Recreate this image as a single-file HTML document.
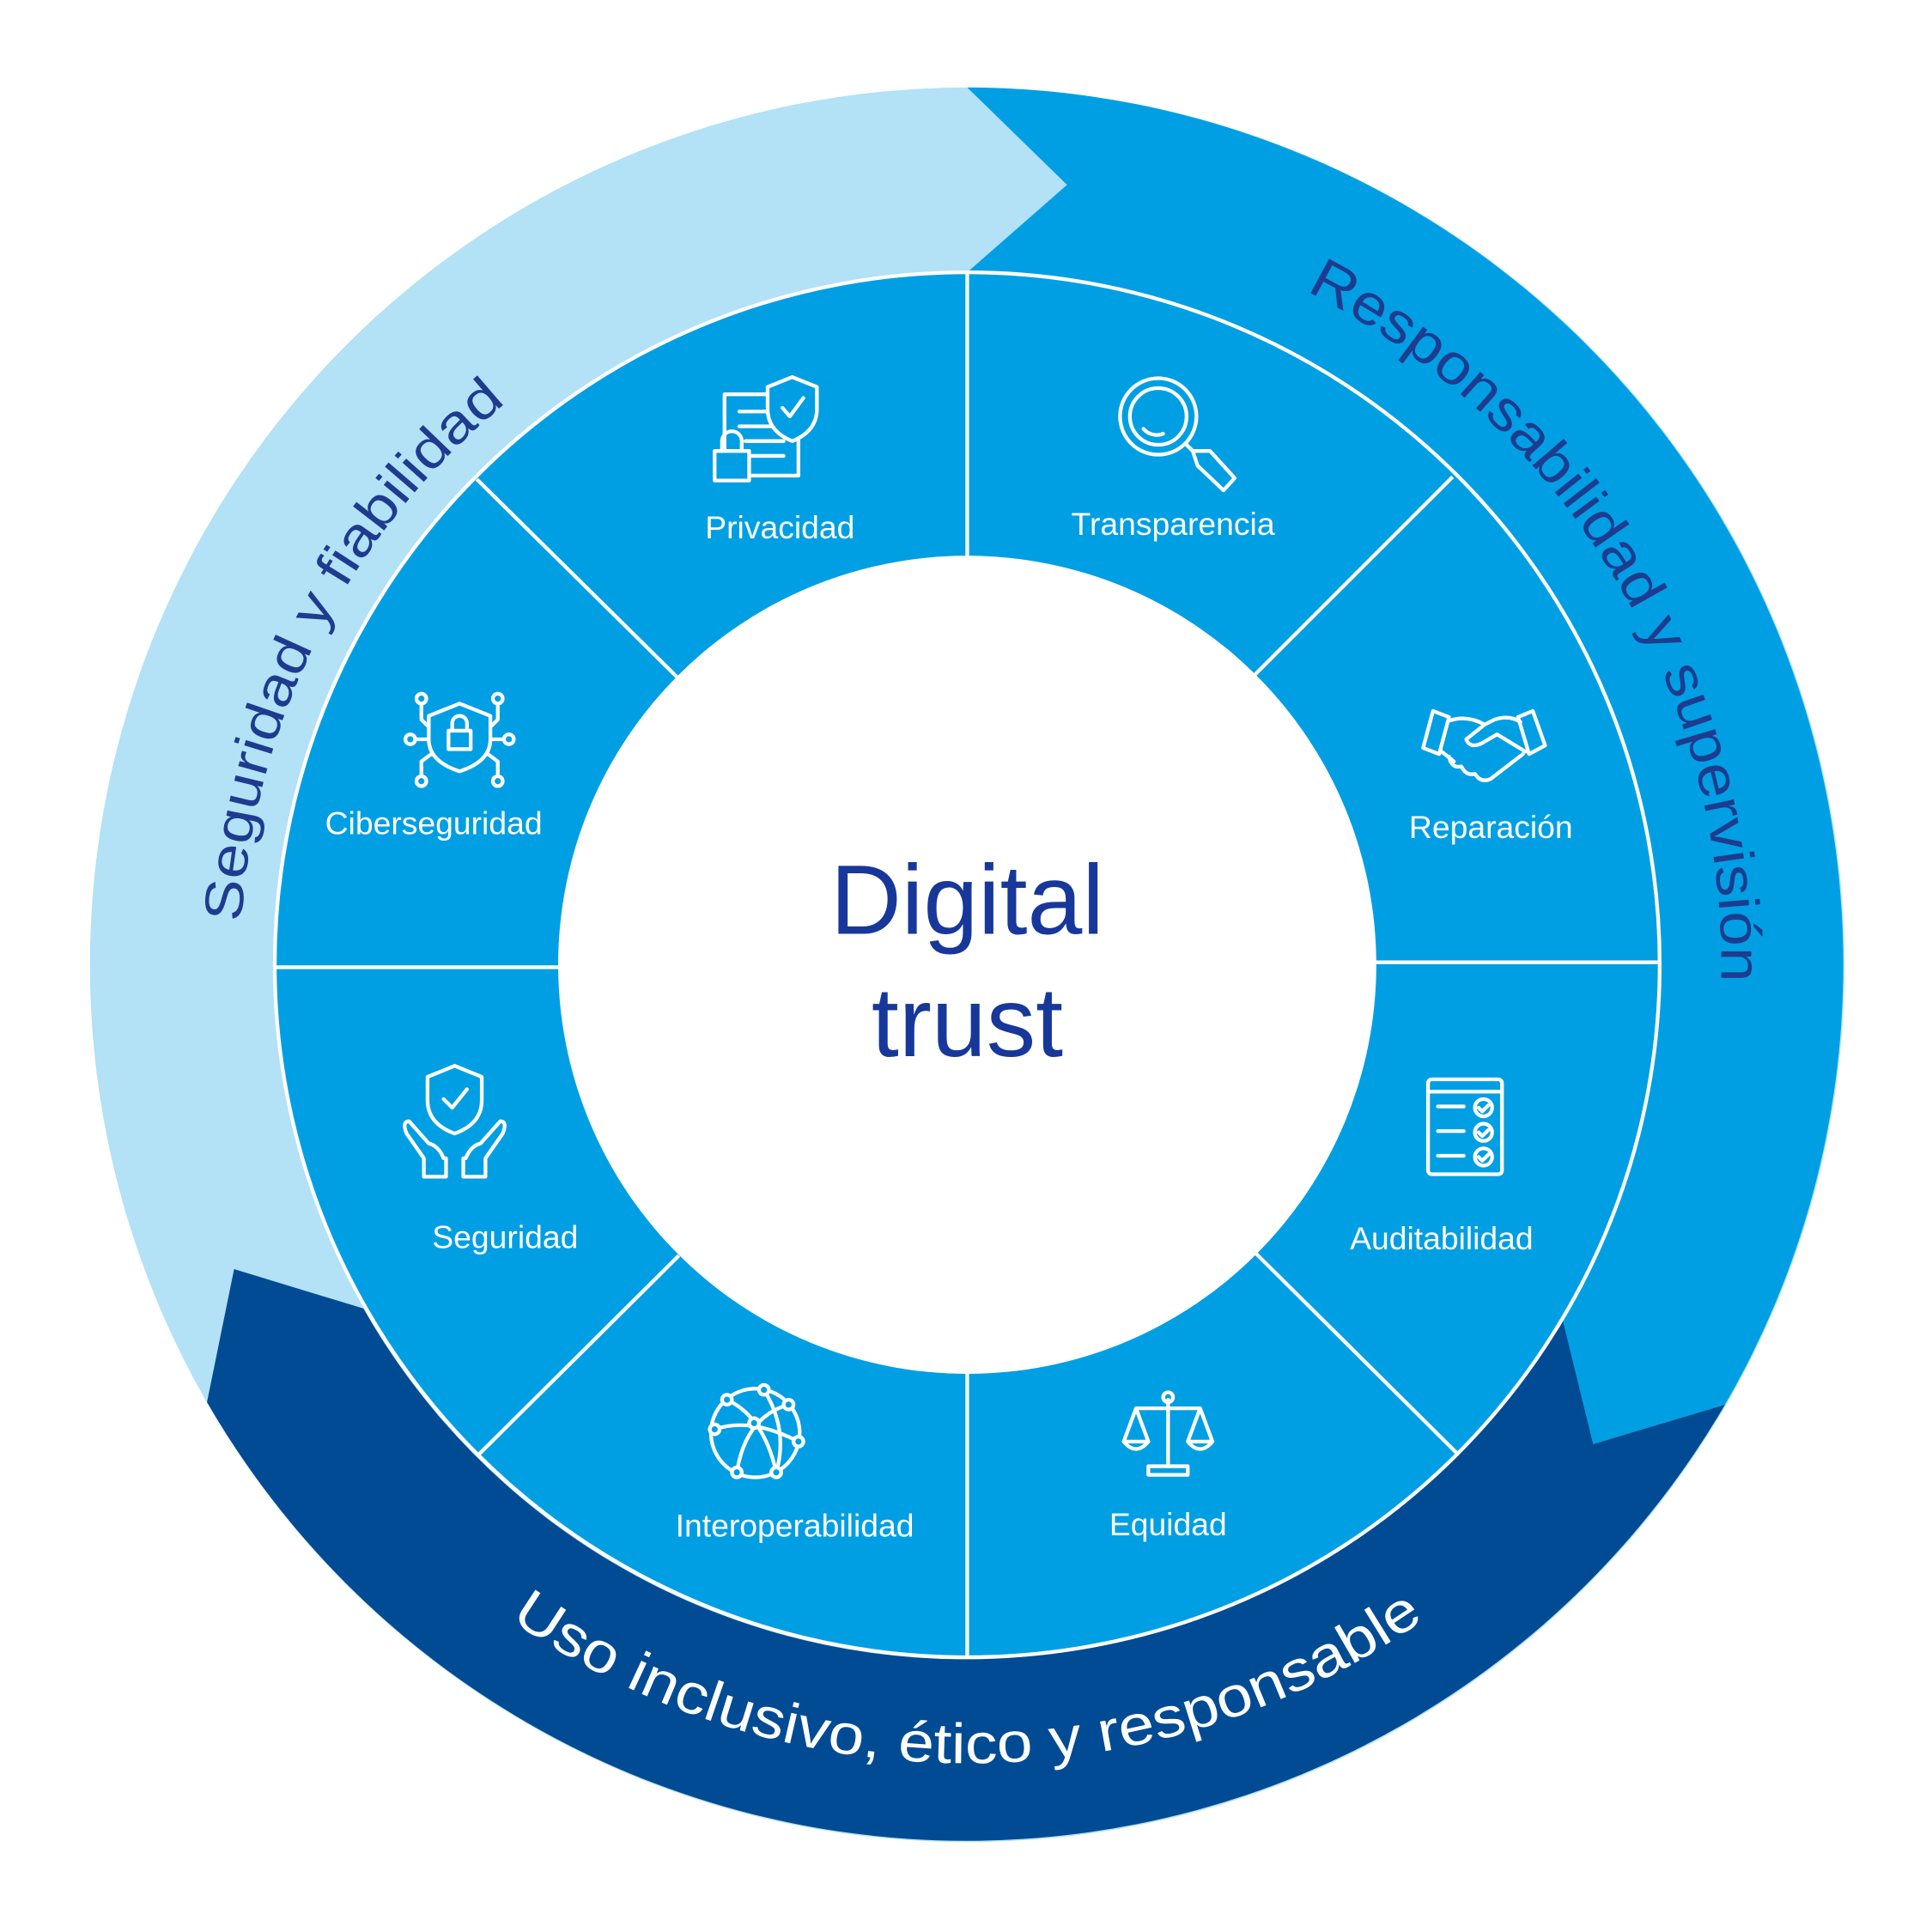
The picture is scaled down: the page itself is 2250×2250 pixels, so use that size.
<!DOCTYPE html>
<html><head><meta charset="utf-8"><style>
html,body{margin:0;padding:0;background:#fff;}
svg{display:block;}
</style></head><body>
<svg width="2250" height="2250" viewBox="0 0 1568 1568" xmlns="http://www.w3.org/2000/svg" font-family="'Liberation Sans', sans-serif">
<rect width="1568" height="1568" fill="#fff"/>
<circle cx="785" cy="783" r="712" fill="#b3e1f6"/>
<path d="M785,71 A712,712 0 0 1 1400,1140 L1293,1172 L1268,1070 A562,562 0 0 0 785,221 L866,150 Z" fill="#009fe3"/>
<path d="M190,1030 L295,1062 A562,562 0 0 0 1268,1070 L1293,1172 L1400,1140 A712,712 0 0 1 168,1138 Z" fill="#004b93"/>
<circle cx="785" cy="783" r="562" fill="#009fe3" stroke="#fff" stroke-width="3"/>
<g stroke="#fff" stroke-width="3">
<line x1="785" y1="221" x2="785" y2="453"/>
<line x1="785" y1="1113" x2="785" y2="1345"/>
<line x1="223" y1="785" x2="455" y2="785"/>
<line x1="1115" y1="781" x2="1347" y2="781"/>
<line x1="387" y1="389" x2="550" y2="550"/>
<line x1="1179" y1="387" x2="1018" y2="548"/>
<line x1="388" y1="1181" x2="551" y2="1019"/>
<line x1="1182" y1="1179" x2="1019" y2="1017"/>
</g>
<circle cx="785" cy="783" r="332" fill="#fff"/>
<text x="785" y="758" text-anchor="middle" font-size="80" fill="#17389a">Digital</text>
<text x="785" y="857" text-anchor="middle" font-size="80" fill="#17389a">trust</text>
<g fill="#fff" font-size="26" text-anchor="middle">
<text x="633" y="437">Privacidad</text>
<text x="952" y="434">Transparencia</text>
<text x="1210" y="680">Reparación</text>
<text x="1170" y="1014">Auditabilidad</text>
<text x="948" y="1246">Equidad</text>
<text x="645" y="1247">Interoperabilidad</text>
<text x="410" y="1013">Seguridad</text>
<text x="352" y="677">Ciberseguridad</text>
</g>
<defs>
<path id="pl" d="M195,783 A590,590 0 0 1 785,193"/>
<path id="pr" d="M785,171 A612,612 0 0 1 1315,1089"/>
<path id="pb" d="M137,783 A648,648 0 0 0 1433,783"/>
</defs>
<text font-size="44" fill="#1d3c8f" text-anchor="middle"><textPath href="#pl" startOffset="278" textLength="487" lengthAdjust="spacingAndGlyphs">Seguridad y fiabilidad</textPath></text>
<text font-size="46" fill="#1d3c8f" text-anchor="middle"><textPath href="#pr" startOffset="630" textLength="690" lengthAdjust="spacingAndGlyphs">Responsabilidad y supervisión</textPath></text>
<text font-size="46" fill="#fff" text-anchor="middle"><textPath href="#pb" startOffset="50%" textLength="790" lengthAdjust="spacingAndGlyphs">Uso inclusivo, ético y responsable</textPath></text>
<g fill="none" stroke="#fff" stroke-width="3" stroke-linecap="round" stroke-linejoin="round">
<rect x="588" y="320" width="60" height="66"/>
<line x1="600" y1="334" x2="625" y2="334"/><line x1="600" y1="346" x2="630" y2="346"/><line x1="605" y1="358" x2="636" y2="358"/><line x1="610" y1="370" x2="636" y2="370"/>
<path d="M643,306 L663,314 L663,332 Q663,350 643,358 Q623,350 623,332 L623,314 Z" fill="#009fe3"/>
<path d="M635,331 L641,338 L652,323"/>
<rect x="580" y="366" width="28" height="24" fill="#009fe3"/><path d="M586,366 V358 A8,8 0 0 1 602,358 V366"/>
<circle cx="940" cy="338" r="31"/><circle cx="940" cy="338" r="23"/>
<path d="M928,348 A14,14 0 0 0 944,352"/>
<path d="M962,360 L968,366 L982,366 L1002,388 L993,398 L972,378 L968,366"/>
<path d="M1163,577 L1155,607 L1168,612 L1176,582 Z"/>
<path d="M1244,577 L1254,605 L1241,612 L1232,582 Z"/>
<path d="M1176,585 Q1190,580 1205,588 L1213,584 Q1225,580 1234,586"/>
<path d="M1205,588 L1190,600 Q1193,608 1203,603 L1215,596 L1238,610"/>
<path d="M1170,610 L1180,618 M1176,614 Q1178,624 1186,622 Q1190,630 1197,628 Q1202,636 1210,632 L1236,612"/>
<rect x="1159" y="876" width="60" height="77" rx="3"/><line x1="1159" y1="886" x2="1219" y2="886"/>
<line x1="1167" y1="898" x2="1188" y2="898"/><line x1="1167" y1="918" x2="1188" y2="918"/><line x1="1167" y1="938" x2="1188" y2="938"/>
<circle cx="1204" cy="899" r="7"/><circle cx="1204" cy="919" r="7"/><circle cx="1204" cy="939" r="7"/>
<path d="M1200,899 l3,3 l5,-5 M1200,919 l3,3 l5,-5 M1200,939 l3,3 l5,-5"/>
<line x1="948" y1="1136" x2="948" y2="1190"/><circle cx="948" cy="1134" r="4"/>
<line x1="922" y1="1143" x2="974" y2="1143"/>
<path d="M922,1143 L912,1170 H932 Z M974,1143 L964,1170 H984 Z"/>
<path d="M912,1170 Q922,1182 932,1170 M964,1170 Q974,1182 984,1170"/>
<rect x="932" y="1190" width="32" height="7"/>
<circle cx="613" cy="1163" r="36"/>
<path d="M590,1136 Q620,1150 630,1195 M580,1160 Q610,1150 648,1170 M598,1195 Q605,1150 640,1140 M620,1128 Q640,1160 630,1195"/>
<g fill="#009fe3"><circle cx="590" cy="1136" r="4"/><circle cx="620" cy="1128" r="4"/><circle cx="640" cy="1140" r="4"/><circle cx="580" cy="1160" r="4"/><circle cx="648" cy="1170" r="4"/><circle cx="598" cy="1195" r="4"/><circle cx="630" cy="1195" r="4"/><circle cx="612" cy="1155" r="4"/></g>
<path d="M369,865 L391,874 L391,893 Q391,912 369,920 Q347,912 347,893 L347,874 Z"/>
<path d="M360,892 L367,899 L379,884"/>
<path d="M344,940 L330,920 Q326,910 332,910 L348,928 Q356,930 360,940 M344,940 L344,955 H362 V940"/>
<path d="M394,940 L408,920 Q412,910 406,910 L390,928 Q382,930 378,940 M394,940 L394,955 H376 V940"/>
<path d="M373,571 L398,581 L398,600 Q398,618 373,626 Q348,618 348,600 L348,581 Z"/>
<rect x="364" y="593" width="18" height="15"/><path d="M367,593 V587 A6,6 0 0 1 379,587 V593"/>
<path d="M342,570 V584 L348,590 M404,570 V584 L398,590 M336,600 H348 M410,600 H398 M342,632 V618 L350,612 M404,632 V618 L396,612"/>
<g fill="#009fe3"><circle cx="342" cy="567" r="4"/><circle cx="404" cy="567" r="4"/><circle cx="333" cy="600" r="4"/><circle cx="413" cy="600" r="4"/><circle cx="342" cy="634" r="4"/><circle cx="404" cy="634" r="4"/></g>
</g>
</svg>
</body></html>
